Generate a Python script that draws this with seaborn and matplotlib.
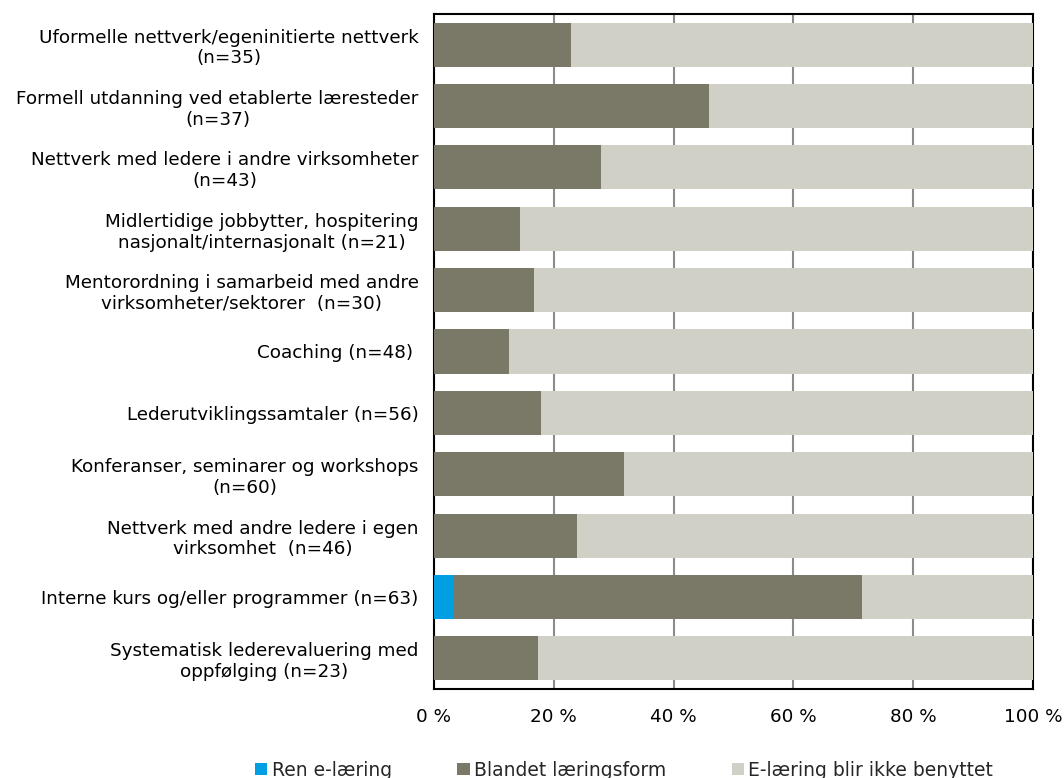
import matplotlib
matplotlib.use("Agg")
import matplotlib.pyplot as plt
import seaborn as sns
import pandas as pd

categories = [
    "Uformelle nettverk/egeninitierte nettverk\n(n=35)",
    "Formell utdanning ved etablerte læresteder\n(n=37)",
    "Nettverk med ledere i andre virksomheter\n(n=43)",
    "Midlertidige jobbytter, hospitering\nnasjonalt/internasjonalt (n=21)",
    "Mentorordning i samarbeid med andre\nvirksomheter/sektorer  (n=30)",
    "Coaching (n=48) ",
    "Lederutviklingssamtaler (n=56)",
    "Konferanser, seminarer og workshops\n(n=60)",
    "Nettverk med andre ledere i egen\nvirksomhet  (n=46)",
    "Interne kurs og/eller programmer (n=63)",
    "Systematisk lederevaluering med\noppfølging (n=23)",
]
ren_elaering = [0.0, 0.0, 0.0, 0.0, 0.0, 0.0, 0.0, 0.0, 0.0, 3.2, 0.0]
blandet = [22.9, 45.9, 27.9, 14.3, 16.7, 12.5, 17.9, 31.7, 23.9, 68.3, 17.4]
ikke_benyttet = [77.1, 54.1, 72.1, 85.7, 83.3, 87.5, 82.1, 68.3, 76.1, 28.5, 82.6]
tick_values = [0, 20, 40, 60, 80, 100]
tick_labels = ["0 %", "20 %", "40 %", "60 %", "80 %", "100 %"]

series_names = ["Ren e-læring", "Blandet læringsform", "E-læring blir ikke benyttet"]
colors = ["#009FE3", "#7A7866", "#D0D0C7"]

df = pd.DataFrame({
    "kategori": categories,
    "ren": ren_elaering,
    "blandet": blandet,
    "ikke": ikke_benyttet,
})
# cumulative ends for stacking (drawn back to front)
df["end_ren"] = df["ren"]
df["end_blandet"] = df["ren"] + df["blandet"]
df["end_ikke"] = df["end_blandet"] + df["ikke"]

sns.set_theme(style="white")
plt.rcParams["font.family"] = ["DejaVu Sans"]
FS = 13.2

fig = plt.figure(figsize=(10.64, 7.78), dpi=100)
ax = fig.add_axes([434 / 1064, 1 - 689 / 778, (1033 - 434) / 1064, (689 - 14) / 778])

for col, color, name in [("end_ikke", colors[2], series_names[2]),
                         ("end_blandet", colors[1], series_names[1]),
                         ("end_ren", colors[0], series_names[0])]:
    sns.barplot(data=df, y="kategori", x=col, orient="h", color=color,
                width=0.72, linewidth=0, saturation=1, label=name, ax=ax,
                zorder=3)

ax.set_xlim(0, 100)
ax.set_ylim(len(categories) - 0.5, -0.5)
ax.set_xticks(tick_values)
ax.set_xticklabels(tick_labels)
ax.xaxis.grid(True, color="#8C8C8C", linewidth=1.5, zorder=0)
ax.yaxis.grid(False)
ax.set_axisbelow(True)
ax.set_xlabel("")
ax.set_ylabel("")
for s in ax.spines.values():
    s.set_visible(True)
    s.set_color("black")
    s.set_linewidth(1.5)
ax.tick_params(axis="x", length=0, pad=14, labelsize=FS, colors="black")
ax.tick_params(axis="y", length=0, pad=11, labelsize=FS, colors="black")
for lbl in ax.get_yticklabels():
    lbl.set_multialignment("center")

handles, labels = ax.get_legend_handles_labels()
order = [labels.index(n) for n in series_names]
if ax.legend_:
    ax.legend_.remove()
fig.legend([handles[i] for i in order], [labels[i] for i in order],
           loc="center", bbox_to_anchor=(624 / 1064, 1 - 770 / 778),
           ncol=3, frameon=False, fontsize=13.5, handlelength=0.65,
           handleheight=0.65, handletextpad=0.22, columnspacing=3.5,
           borderaxespad=0, borderpad=0)

fig.savefig("out.png", dpi=100)
